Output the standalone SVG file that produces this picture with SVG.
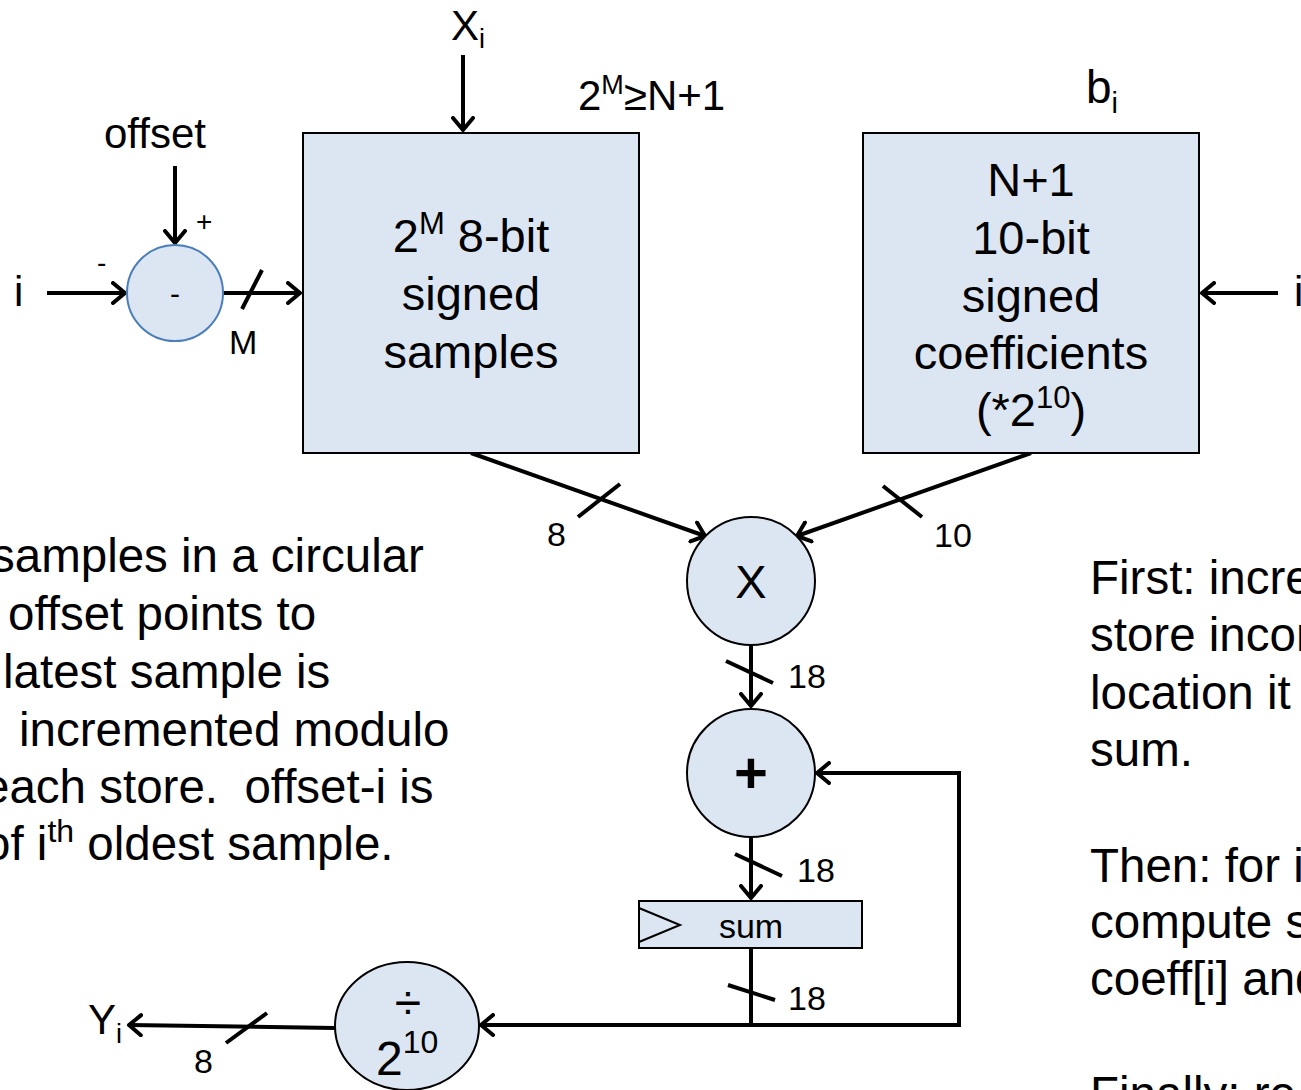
<svg xmlns="http://www.w3.org/2000/svg" width="1301" height="1090" viewBox="0 0 1301 1090">
<style>
text{font-family:"Liberation Sans",Arial,sans-serif;fill:#000}
.big{font-size:47px}
.par{font-size:47.5px}
.mid{font-size:42px}
.lbl{font-size:34px}
.box{fill:#dce6f2;stroke:#000;stroke-width:2}
.op{fill:#dce6f2;stroke:#000;stroke-width:2}
.w{fill:none;stroke:#000;stroke-width:4}
.sl{stroke:#000;stroke-width:4}
</style>
<defs>
<marker id="ah" viewBox="0 0 16 24" refX="14" refY="12" markerWidth="16" markerHeight="24" markerUnits="userSpaceOnUse" orient="auto">
<path d="M2,2 L14,12 L2,22" fill="none" stroke="#000" stroke-width="4" stroke-linecap="round" stroke-linejoin="round"/>
</marker>
</defs>
<rect width="1301" height="1090" fill="#fff"/>

<g id="connectors">
<line class="w" x1="463" y1="55" x2="463" y2="130" marker-end="url(#ah)"/>
<line class="w" x1="175" y1="166" x2="175" y2="243" marker-end="url(#ah)"/>
<line class="w" x1="47" y1="293" x2="125" y2="293" marker-end="url(#ah)"/>
<line class="w" x1="223" y1="293" x2="300" y2="293" marker-end="url(#ah)"/>
<line class="sl" x1="242" y1="309" x2="262" y2="270"/>
<line class="w" x1="1278" y1="293" x2="1202" y2="293" marker-end="url(#ah)"/>
<line class="w" x1="471" y1="453" x2="705" y2="536" marker-end="url(#ah)"/>
<line class="sl" x1="578" y1="517" x2="620" y2="484"/>
<line class="w" x1="1031" y1="453" x2="797" y2="536" marker-end="url(#ah)"/>
<line class="sl" x1="883" y1="486" x2="922" y2="517"/>
<line class="w" x1="751" y1="645" x2="751" y2="706" marker-end="url(#ah)"/>
<line class="sl" x1="726" y1="661" x2="773" y2="683"/>
<line class="w" x1="751" y1="837" x2="751" y2="898" marker-end="url(#ah)"/>
<line class="sl" x1="735" y1="854" x2="782" y2="876"/>
<line class="w" x1="751" y1="948" x2="751" y2="1025"/>
<line class="sl" x1="728" y1="985" x2="775" y2="1000"/>
<line class="w" x1="753" y1="1025" x2="481" y2="1025" marker-end="url(#ah)"/>
<polyline class="w" points="751,1025 959,1025 959,773 817,773" marker-end="url(#ah)"/>
<line class="w" x1="335" y1="1028" x2="129" y2="1025" marker-end="url(#ah)"/>
<line class="sl" x1="226" y1="1043" x2="267" y2="1013"/>
</g>

<g id="labels">
<text class="mid" x="451" y="40">X<tspan font-size="27" dy="8">i</tspan></text>
<text class="mid" x="578" y="110">2<tspan font-size="27" dy="-16">M</tspan><tspan dy="16">≥N+1</tspan></text>
<text x="1086" y="103" font-size="46">b<tspan font-size="29" dy="10">i</tspan></text>
<text class="mid" x="104" y="148">offset</text>
<text x="196" y="231" font-size="28">+</text>
<text x="97" y="272" font-size="28">-</text>
<text class="mid" x="14" y="306">i</text>
<text class="mid" x="1294" y="306">i</text>
<text x="229" y="354" font-size="34">M</text>
<text class="lbl" x="547" y="546">8</text>
<text class="lbl" x="934" y="547">10</text>
<text class="lbl" x="788" y="688">18</text>
<text class="lbl" x="797" y="882">18</text>
<text class="lbl" x="788" y="1010">18</text>
<text class="lbl" x="194" y="1073">8</text>
<text class="mid" x="88" y="1034">Y<tspan font-size="27" dy="9">i</tspan></text>
</g>

<g id="samples">
<rect class="box" x="303" y="133" width="336" height="320"/>
<text class="big" text-anchor="middle" x="471" y="252">2<tspan font-size="31" dy="-18">M</tspan><tspan dy="18"> 8-bit</tspan></text>
<text class="big" text-anchor="middle" x="471" y="310">signed</text>
<text class="big" text-anchor="middle" x="471" y="368">samples</text>
</g>

<g id="coefficients">
<rect class="box" x="863" y="133" width="336" height="320"/>
<text class="big" text-anchor="middle" x="1031" y="196">N+1</text>
<text class="big" text-anchor="middle" x="1031" y="254">10-bit</text>
<text class="big" text-anchor="middle" x="1031" y="312">signed</text>
<text class="big" text-anchor="middle" x="1031" y="369">coefficients</text>
<text class="big" text-anchor="middle" x="1031" y="426">(*2<tspan font-size="31" dy="-18">10</tspan><tspan dy="18">)</tspan></text>
</g>

<g id="subtract">
<circle cx="175" cy="293" r="48" fill="#dce6f2" stroke="#4a7ebb" stroke-width="2"/>
<text x="175" y="304" font-size="30" text-anchor="middle">-</text>
</g>

<g id="multiply">
<circle class="op" cx="751" cy="581" r="64"/>
<text class="big" x="751" y="598" text-anchor="middle">X</text>
</g>

<g id="add">
<circle class="op" cx="751" cy="773" r="64"/>
<text x="751" y="793" font-size="58" font-weight="bold" text-anchor="middle">+</text>
</g>

<g id="sum">
<rect class="box" x="639" y="901" width="223" height="47"/>
<polyline points="639,908 680,925 639,942" fill="none" stroke="#000" stroke-width="2"/>
<text x="751" y="938" font-size="34" text-anchor="middle">sum</text>
</g>

<g id="divide">
<ellipse class="op" cx="407" cy="1026" rx="72" ry="64"/>
<text x="408" y="1019" font-size="48" text-anchor="middle">÷</text>
<text x="376" y="1075" font-size="48">2<tspan font-size="32" dy="-22">10</tspan></text>
</g>

<g id="note-left">
<text class="par" x="-9" y="572">samples in a circular</text>
<text class="par" x="8" y="630">offset points to</text>
<text class="par" x="3" y="688">latest sample is</text>
<text class="par" x="19" y="746">incremented modulo</text>
<text class="par" x="-17" y="803" xml:space="preserve">each store.  offset-i is</text>
<text class="par" x="-16" y="860">of i<tspan font-size="32" dy="-18">th</tspan><tspan dy="18"> oldest sample.</tspan></text>
</g>

<g id="note-right">
<text class="par" x="1090" y="594">First: incre</text>
<text class="par" x="1090" y="651">store incor</text>
<text class="par" x="1090" y="709">location it</text>
<text class="par" x="1090" y="766">sum.</text>
<text class="par" x="1090" y="882">Then: for i</text>
<text class="par" x="1090" y="938">compute s</text>
<text class="par" x="1090" y="995">coeff[i] and</text>
<text class="par" x="1090" y="1110">Finally: re</text>
</g>
</svg>
